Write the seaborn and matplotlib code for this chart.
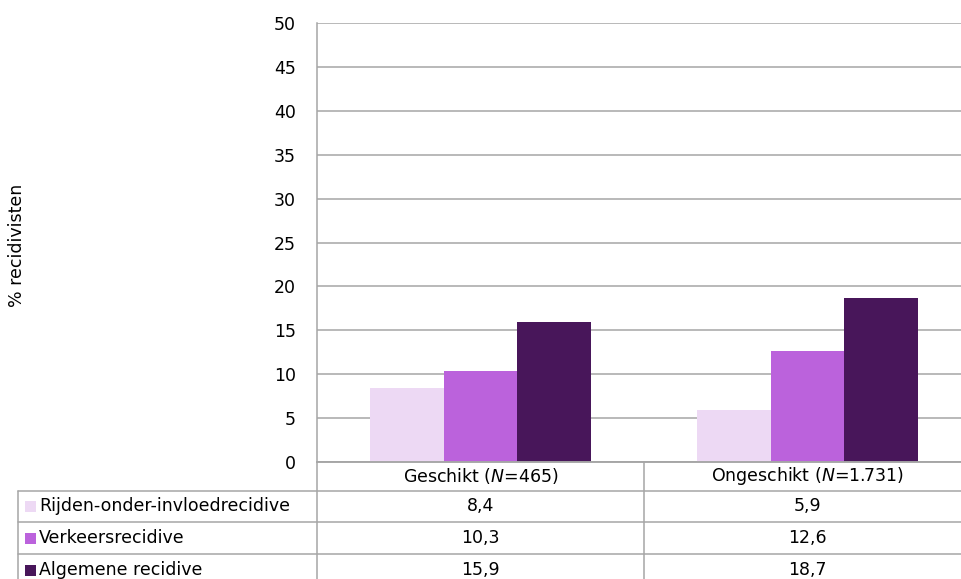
import matplotlib
matplotlib.use("Agg")
import matplotlib.pyplot as plt
from matplotlib.lines import Line2D
from matplotlib.patches import Rectangle
import seaborn as sns
import pandas as pd

# data
groups = ["Geschikt", "Ongeschikt"]
group_n = ["465", "1.731"]
series = ["Rijden-onder-invloedrecidive", "Verkeersrecidive", "Algemene recidive"]
values_geschikt = [8.4, 10.3, 15.9]
values_ongeschikt = [5.9, 12.6, 18.7]
colors = ["#EDD9F4", "#BB62DC", "#48165A"]

rows = []
for s, a, b in zip(series, values_geschikt, values_ongeschikt):
    rows.append({"groep": groups[0], "reeks": s, "pct": a})
    rows.append({"groep": groups[1], "reeks": s, "pct": b})
df = pd.DataFrame(rows)

sns.set_theme(style="white")
plt.rcParams["font.family"] = ["DejaVu Sans"]
plt.rcParams["mathtext.fontset"] = "dejavusans"
plt.rcParams["text.color"] = "black"

FS = 12.5
W, H = 962, 579
fig = plt.figure(figsize=(W / 100, H / 100), dpi=100)

def fx(px):
    return px / W

def fy(py):
    return 1 - py / H

left, right, top, bottom = 317, 971, 23.3, 461.7
ax = fig.add_axes([fx(left), fy(bottom), fx(right - left), (bottom - top) / H])

sns.barplot(data=df, x="groep", y="pct", hue="reeks", order=groups,
            hue_order=series, palette=colors, saturation=1, width=0.673,
            linewidth=0, ax=ax, legend=False)

ax.set_ylim(0, 50)
ax.set_xlim(-0.5, 1.5)
ax.set_yticks(range(0, 51, 5))
ax.yaxis.grid(True, color="#A6A6A6", linewidth=1.1)
ax.set_axisbelow(True)
ax.tick_params(axis="y", length=0, pad=15, labelsize=FS, colors="black")
ax.set_xticks([])
ax.set_xlabel("")
ax.set_ylabel("")
for sp in ["top", "right"]:
    ax.spines[sp].set_visible(False)
for sp in ["left", "bottom"]:
    ax.spines[sp].set_color("#A6A6A6")
    ax.spines[sp].set_linewidth(1.1)

fig.text(fx(17), fy(245), "% recidivisten", rotation=90, ha="center",
         va="center", fontsize=FS)

# data table below the axes
line_kw = dict(color="#A6A6A6", linewidth=1.1)
row_lines = [490.7, 522, 554]
table_bottom = 586
mid = 644
fig.add_artist(Line2D([fx(left), fx(W)], [fy(bottom), fy(bottom)], **line_kw))
for yl in row_lines:
    fig.add_artist(Line2D([fx(18), fx(W)], [fy(yl), fy(yl)], **line_kw))
fig.add_artist(Line2D([fx(18), fx(18)], [fy(row_lines[0]), fy(table_bottom)], **line_kw))
for xv in [left, mid]:
    fig.add_artist(Line2D([fx(xv), fx(xv)], [fy(bottom), fy(table_bottom)], **line_kw))

col_centers = [(left + mid) / 2, (mid + right) / 2]
header_y = (bottom + row_lines[0]) / 2
for g, n, xc in zip(groups, group_n, col_centers):
    fig.text(fx(xc), fy(header_y), g + r" ($\mathit{N}$=" + n + ")",
             ha="center", va="center", fontsize=FS)

row_edges = row_lines + [table_bottom]
for i, (s, c) in enumerate(zip(series, colors)):
    yc = (row_edges[i] + row_edges[i + 1]) / 2
    fig.add_artist(Rectangle((fx(25), fy(yc + 5.5)), fx(11), 11 / H,
                             facecolor=c, edgecolor="none"))
    fig.text(fx(39), fy(yc), s, ha="left", va="center", fontsize=FS)
    for v, xc in zip([values_geschikt[i], values_ongeschikt[i]], col_centers):
        fig.text(fx(xc), fy(yc), f"{v:.1f}".replace(".", ","),
                 ha="center", va="center", fontsize=FS)

fig.savefig("out.png", dpi=100)
